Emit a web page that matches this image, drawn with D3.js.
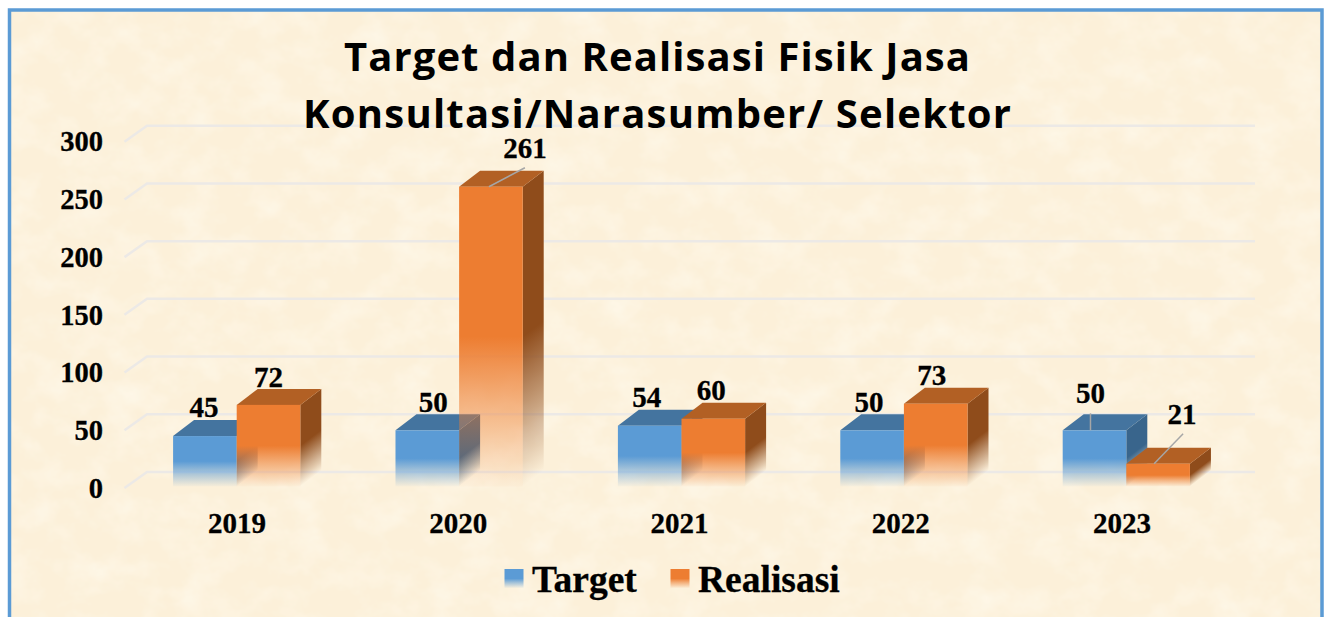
<!DOCTYPE html>
<html>
<head>
<meta charset="utf-8">
<title>Target dan Realisasi Fisik Jasa Konsultasi/Narasumber/ Selektor</title>
<script src="https://cdn.jsdelivr.net/npm/d3@7"></script>
<style>
html, body { margin: 0; padding: 0; background: #fff; overflow: hidden; }
svg { display: block; }
text { font-family: "Liberation Serif", serif; font-weight: bold; fill: #000; stroke: #000; stroke-width: 0.3; }
</style>
</head>
<body>
<div id="chart"></div>
<script>
(function() {
"use strict";

//chart values
var years = ["2019", "2020", "2021", "2022", "2023"];
var seriesNames = ["Target", "Realisasi"];
var target = [45, 50, 54, 50, 50];
var realisasi = [72, 261, 60, 73, 21];
var yTicks = [0, 50, 100, 150, 200, 250, 300];
var titleLines = ["Target dan Realisasi Fisik Jasa", "Konsultasi/Narasumber/ Selektor"];

var width = 1329;
var height = 617;
var depthX = 21; //the fake 3d offset of the bars
var depthY = 16;

var colours = [
    {front: "#5b9bd5", top: "#44749f", side: "#39658c"},
    {front: "#ed7d31", top: "#b26024", side: "#8f4c1b"}
];

var svg = d3.select("#chart").append("svg")
    .attr("width", width)
    .attr("height", height);

var defs = svg.append("defs");

//paper texture for the background
var paper = defs.append("filter").attr("id", "paper")
    .attr("x", 0).attr("y", 0).attr("width", 1).attr("height", 1);
paper.append("feTurbulence")
    .attr("type", "fractalNoise")
    .attr("baseFrequency", "0.028 0.034")
    .attr("numOctaves", 4)
    .attr("seed", 7);
paper.append("feColorMatrix")
    .attr("type", "matrix")
    .attr("values", "0 0 0 0 1  0 0 0 0 0.97  0 0 0 0 0.88  1.1 0 0 0 -0.44");

svg.append("rect").attr("x", 9.5).attr("y", 10).attr("width", 1312.5).attr("height", 640)
    .attr("fill", "#fcf0d9");
svg.append("rect").attr("x", 11).attr("y", 12).attr("width", 1309).attr("height", 605)
    .attr("filter", "url(#paper)");
svg.append("rect").attr("x", 9.5).attr("y", 10).attr("width", 1312.5).attr("height", 640)
    .attr("fill", "none")
    .attr("stroke", "#5b9bd5")
    .attr("stroke-width", 3.5);

var x0 = d3.scaleBand().domain(years).range([125.5, 1237.5]).paddingInner(0.428).paddingOuter(0.214);
var x1 = d3.scaleBand().domain(seriesNames).range([0, x0.bandwidth()]);
var y = d3.scaleLinear().domain([0, 300]).range([488, 141.7]);
var xLabel = d3.scalePoint().domain(years).range([237, 1122]); //axis labels drift a bit left of the bars

//gridlines go along the left wall and then along the back wall
var grid = svg.append("g");
grid.selectAll("path").data(yTicks).enter().append("path")
    .attr("d", function(d) {
        return "M124.5," + y(d) + "L" + (124.5 + 22.5) + "," + (y(d) - depthY) + "H1255";
    })
    .attr("fill", "none")
    .attr("stroke", "#ece9e6")
    .attr("stroke-width", 2.5);

//the fade used by the front faces (bottom half goes see through)
colours.forEach(function(c, i) {
    var g = defs.append("linearGradient").attr("id", "front" + i)
        .attr("x1", 0).attr("y1", 0).attr("x2", 0).attr("y2", 1);
    g.append("stop").attr("offset", "50%").attr("stop-color", c.front).attr("stop-opacity", 1);
    g.append("stop").attr("offset", "72%").attr("stop-color", c.front).attr("stop-opacity", 0.55);
    g.append("stop").attr("offset", "100%").attr("stop-color", c.front).attr("stop-opacity", 0.03);
});

var rows = [];
years.forEach(function(year, i) {
    rows.push({year: year, s: 0, value: target[i]});
    rows.push({year: year, s: 1, value: realisasi[i]});
});

var bars = svg.append("g").selectAll("g").data(rows).enter().append("g");

bars.each(function(d, i) {
    var g = d3.select(this);
    var c = colours[d.s];
    var left = x0(d.year) + x1(seriesNames[d.s]);
    var right = left + x1.bandwidth();
    var top = y(d.value);
    var floor = y(0) - 1.5;

    //side face fades along its own slanted bottom edge
    var id = "side" + i;
    var sg = defs.append("linearGradient").attr("id", id)
        .attr("gradientUnits", "userSpaceOnUse")
        .attr("x1", 0).attr("y1", 0).attr("x2", 0).attr("y2", floor - top)
        .attr("gradientTransform", "translate(" + right + "," + top + ") skewY(" + (-Math.atan2(depthY, depthX) * 180 / Math.PI) + ")");
    sg.append("stop").attr("offset", "50%").attr("stop-color", c.side).attr("stop-opacity", 1);
    sg.append("stop").attr("offset", "100%").attr("stop-color", c.side).attr("stop-opacity", 0);

    g.append("path")
        .attr("d", "M" + right + "," + top + "l" + depthX + "," + (-depthY) + "V" + (floor - depthY) + "L" + right + "," + floor + "Z")
        .attr("fill", "url(#" + id + ")");
    g.append("path")
        .attr("d", "M" + left + "," + top + "l" + depthX + "," + (-depthY) + "H" + (right + depthX) + "L" + right + "," + top + "Z")
        .attr("fill", c.top);
    g.append("rect")
        .attr("x", left)
        .attr("y", top)
        .attr("width", right - left)
        .attr("height", floor - top)
        .attr("fill", "url(#front" + d.s + ")");
});

//labels were dragged around by hand in the original, [dx, dy] from the top middle of each bar
var labelNudge = [[-1, -29], [0, -28], [6, -28], [34, -39], [-3, -29], [-2, -29], [-3, -28], [-4, -29], [-4, -37], [24, -50]];
var leaders = {3: [34, -19], 8: [-4, -17], 9: [25, -30]};

var labels = svg.append("g");
rows.forEach(function(d, i) {
    var cx = x0(d.year) + x1(seriesNames[d.s]) + x1.bandwidth() / 2;
    var top = y(d.value);
    if (leaders[i]) {
        labels.append("line")
            .attr("x1", cx + (i === 8 ? -4 : i === 9 ? -4 : -2))
            .attr("y1", top)
            .attr("x2", cx + leaders[i][0])
            .attr("y2", top + leaders[i][1])
            .attr("stroke", "#a6a6a6")
            .attr("stroke-width", 1.5);
    }
    labels.append("text")
        .attr("x", cx + labelNudge[i][0])
        .attr("y", top + labelNudge[i][1])
        .attr("dy", "0.34em")
        .attr("text-anchor", "middle")
        .attr("font-size", 29)
        .text(d.value);
});

//y axis labels
svg.append("g").selectAll("text").data(yTicks).enter().append("text")
    .attr("x", 103)
    .attr("y", function(d) { return y(d); })
    .attr("dy", "0.34em")
    .attr("text-anchor", "end")
    .attr("font-size", 28.5)
    .text(function(d) { return d; });

//x axis labels
svg.append("g").selectAll("text").data(years).enter().append("text")
    .attr("x", function(d) { return xLabel(d); })
    .attr("y", 523)
    .attr("dy", "0.34em")
    .attr("text-anchor", "middle")
    .attr("font-size", 29)
    .text(function(d) { return d; });

//title
var titleWidths = [626, 708];
svg.append("g").selectAll("text").data(titleLines).enter().append("text")
    .attr("x", 657)
    .attr("y", function(d, i) { return 71 + i * 56.5; })
    .attr("text-anchor", "middle")
    .attr("textLength", function(d, i) { return titleWidths[i]; })
    .attr("lengthAdjust", "spacing")
    .style("font-family", '"Open Sans", sans-serif')
    .style("stroke-width", 0)
    .attr("font-size", 40)
    .text(function(d) { return d; });

//legend
var legendX = [504.5, 670.5];
var legend = svg.append("g").selectAll("g").data(seriesNames).enter().append("g")
    .attr("transform", function(d, i) { return "translate(" + legendX[i] + ",569)"; });
legend.append("rect")
    .attr("width", 19)
    .attr("height", 19)
    .attr("fill", function(d, i) { return "url(#front" + i + ")"; });
legend.append("text")
    .attr("x", 27.5)
    .attr("y", 10)
    .attr("dy", "0.34em")
    .attr("font-size", 37.5)
    .text(function(d) { return d; });

})();
</script>
</body>
</html>
